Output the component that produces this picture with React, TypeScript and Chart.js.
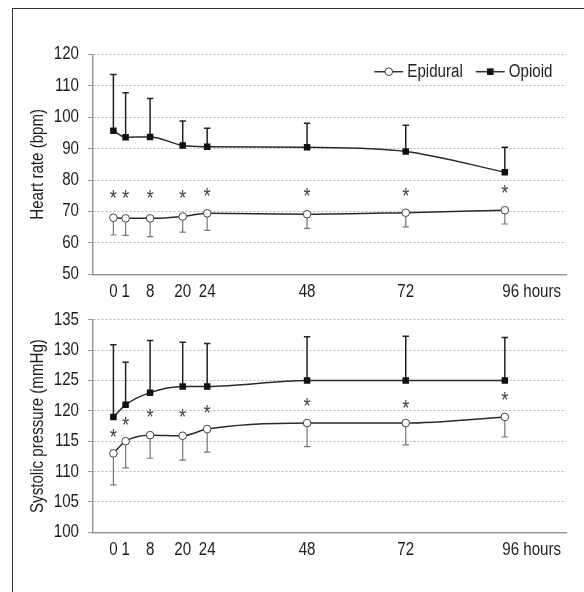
import React, { useEffect, useRef } from 'react';
import { Chart, registerables } from 'chart.js';
Chart.register(...registerables);

// ---- data ----
const hourLabels = ['0', '1', '8', '20', '24', '48', '72', '96'];
// display position of each time point along the (non-proportional) time axis
const hourPositions = [0, 3, 9, 17, 23, 47.5, 71.7, 96];

const hrOpioid = [95.7, 93.6, 93.7, 91.0, 90.6, 90.4, 89.1, 82.5];
const hrOpioidSD = [17.9, 14.2, 12.2, 7.8, 5.9, 7.7, 8.3, 7.9];
const hrEpidural = [68.0, 67.8, 67.8, 68.4, 69.4, 69.1, 69.6, 70.4];
const hrEpiduralSD = [5.5, 5.4, 5.8, 5.0, 5.4, 4.5, 4.5, 4.4];
const hrStars = [75.5, 75.5, 75.5, 75.5, 76.3, 76.3, 76.3, 77.0];

const sbpOpioid = [119, 121, 123, 124, 124, 125, 125, 125];
const sbpOpioidSD = [11.9, 7.0, 8.6, 7.3, 7.1, 7.2, 7.3, 7.1];
const sbpEpidural = [113, 115, 116, 115.9, 117, 118, 118, 119];
const sbpEpiduralSD = [5.2, 4.4, 3.8, 4.0, 3.8, 3.9, 3.6, 3.3];
const sbpStars = [116.4, 118.3, 119.6, 119.6, 120.3, 121.4, 121.2, 122.5];

const FONT_FAMILY = "'Liberation Sans', Arial, sans-serif";
const FONT_SIZE = 18;
const SX = 0.84; // horizontal condensing of all text (condensed face look)
const TEXT = '#1e1e1e';

type Panel = {
  opioid: number[]; opioidSD: number[]; epidural: number[]; epiduralSD: number[]; stars: number[];
  yMin: number; yMax: number; yStep: number; title: string;
  padTop: number; xAxisHeight: number; legend: boolean;
};

function condense(ctx: any) {
  if (ctx.__condensed) return;
  const orig = ctx.fillText.bind(ctx);
  ctx.fillText = function (text: string, x: number, y: number, maxWidth?: number) {
    ctx.save();
    ctx.translate(x, y);
    ctx.scale(SX, 1);
    if (maxWidth === undefined || maxWidth === null) orig(text, 0, 0);
    else orig(text, 0, 0, maxWidth / SX);
    ctx.restore();
  };
  ctx.__condensed = true;
}

function overlayPlugin(p: Panel) {
  return {
    id: 'overlay',
    beforeDraw(chart: any) {
      condense(chart.ctx);
    },
    beforeDatasetsDraw(chart: any) {
      const ctx = chart.ctx;
      const yScale = chart.scales.y;
      chart.data.datasets.forEach((ds: any, di: number) => {
        const meta = chart.getDatasetMeta(di);
        ctx.save();
        ctx.strokeStyle = ds.errColor;
        ctx.lineWidth = ds.errWidth;
        meta.data.forEach((el: any, i: number) => {
          const end = yScale.getPixelForValue(ds.means[i] + ds.errDir * ds.errors[i]);
          ctx.beginPath();
          ctx.moveTo(el.x, el.y);
          ctx.lineTo(el.x, end);
          ctx.moveTo(el.x - 3.2, end);
          ctx.lineTo(el.x + 3.2, end);
          ctx.stroke();
        });
        ctx.restore();
      });
    },
    afterDraw(chart: any) {
      const ctx = chart.ctx;
      const xs = chart.scales.x;
      const ys = chart.scales.y;
      const area = chart.chartArea;
      ctx.save();
      // asterisks
      ctx.fillStyle = '#444';
      ctx.font = `22px ${FONT_FAMILY}`;
      ctx.textAlign = 'center';
      ctx.textBaseline = 'alphabetic';
      const m = ctx.measureText('*');
      const off = (m.actualBoundingBoxAscent - m.actualBoundingBoxDescent) / 2;
      p.stars.forEach((v, i) => {
        ctx.fillText('*', xs.getPixelForValue(hourPositions[i]), ys.getPixelForValue(v) + off);
      });
      // last x label "96 hours"
      ctx.font = `${FONT_SIZE}px ${FONT_FAMILY}`;
      ctx.fillStyle = TEXT;
      ctx.textAlign = 'left';
      ctx.textBaseline = 'middle';
      const lastX = xs.getPixelForValue(hourPositions[hourPositions.length - 1]);
      ctx.fillText(hourLabels[hourLabels.length - 1] + ' hours', lastX - 2.6, area.bottom + 17.3);
      // legend
      if (p.legend) {
        const y = area.top + 17.4;
        let x = area.right - 191.7;
        ctx.strokeStyle = '#333';
        ctx.lineWidth = 1.5;
        ctx.beginPath(); ctx.moveTo(x, y); ctx.lineTo(x + 29, y); ctx.stroke();
        ctx.beginPath(); ctx.arc(x + 14.5, y, 3.8, 0, Math.PI * 2);
        ctx.fillStyle = '#fff'; ctx.fill();
        ctx.lineWidth = 1; ctx.strokeStyle = '#444'; ctx.stroke();
        x += 33;
        ctx.fillStyle = TEXT;
        ctx.fillText('Epidural', x, y);
        x += ctx.measureText('Epidural').width * SX + 13;
        ctx.strokeStyle = '#333';
        ctx.lineWidth = 1.5;
        ctx.beginPath(); ctx.moveTo(x, y); ctx.lineTo(x + 29, y); ctx.stroke();
        ctx.fillStyle = '#111';
        ctx.fillRect(x + 14.5 - 3.3, y - 3.3, 6.6, 6.6);
        x += 33;
        ctx.fillStyle = TEXT;
        ctx.fillText('Opioid', x, y);
      }
      ctx.restore();
    },
  };
}

function makeConfig(p: Panel): any {
  const font = { family: FONT_FAMILY, size: FONT_SIZE };
  return {
    type: 'line',
    data: {
      datasets: [
        {
          label: 'Epidural',
          data: hourPositions.map((x, i) => ({ x, y: p.epidural[i] })),
          means: p.epidural, errors: p.epiduralSD, errDir: -1, errColor: '#777', errWidth: 1.2,
          borderColor: '#2a2a2a', borderWidth: 1.5,
          pointStyle: 'circle', pointRadius: 3.8, pointBackgroundColor: '#fff',
          pointBorderColor: '#444', pointBorderWidth: 1,
          cubicInterpolationMode: 'monotone',
        },
        {
          label: 'Opioid',
          data: hourPositions.map((x, i) => ({ x, y: p.opioid[i] })),
          means: p.opioid, errors: p.opioidSD, errDir: 1, errColor: '#222', errWidth: 1.5,
          borderColor: '#2a2a2a', borderWidth: 1.5,
          pointStyle: 'rect', pointRadius: 4.6, pointBackgroundColor: '#111',
          pointBorderColor: '#111', pointBorderWidth: 0,
          cubicInterpolationMode: 'monotone',
        },
      ],
    },
    options: {
      animation: false,
      responsive: false,
      devicePixelRatio: 1,
      layout: { padding: { left: 0, right: 18, top: p.padTop, bottom: 0 } },
      plugins: { legend: { display: false }, tooltip: { enabled: false } },
      scales: {
        x: {
          type: 'linear', min: -5, max: 111,
          afterBuildTicks: (s: any) => { s.ticks = hourPositions.map((v) => ({ value: v })); },
          ticks: {
            autoSkip: false, maxRotation: 0, minRotation: 0, padding: 6.5, font, color: TEXT,
            callback: (_v: any, i: number) => (i === hourLabels.length - 1 ? '' : hourLabels[i]),
          },
          grid: { display: false, drawTicks: false },
          border: { display: true, color: '#999', width: 1.5 },
          afterFit: (s: any) => { s.height = p.xAxisHeight; },
        },
        y: {
          min: p.yMin, max: p.yMax,
          ticks: { stepSize: p.yStep, padding: 9, font, color: TEXT },
          grid: { color: '#b5b5b5', lineWidth: 1, tickLength: 5, tickColor: '#999', tickWidth: 1 },
          border: { dash: [2, 2], color: '#999', width: 1.5 },
          title: { display: true, text: p.title, font, color: TEXT, padding: { top: 27, bottom: 0 } },
          afterFit: (s: any) => { s.width = 93; },
        },
      },
    },
    plugins: [overlayPlugin(p)],
  };
}

const topPanel: Panel = {
  opioid: hrOpioid, opioidSD: hrOpioidSD, epidural: hrEpidural, epiduralSD: hrEpiduralSD, stars: hrStars,
  yMin: 50, yMax: 120, yStep: 10, title: 'Heart rate (bpm)', padTop: 54.3, xAxisHeight: 25.7, legend: true,
};
const bottomPanel: Panel = {
  opioid: sbpOpioid, opioidSD: sbpOpioidSD, epidural: sbpEpidural, epiduralSD: sbpEpiduralSD, stars: sbpStars,
  yMin: 100, yMax: 135, yStep: 5, title: 'Systolic pressure (mmHg)', padTop: 12.7, xAxisHeight: 59.7, legend: false,
};

function ChartCanvas({ panel, top, height }: { panel: Panel; top: number; height: number }) {
  const ref = useRef<HTMLCanvasElement>(null);
  useEffect(() => {
    if (!ref.current) return;
    const chart = new Chart(ref.current, makeConfig(panel));
    return () => chart.destroy();
  }, [panel]);
  return (
    <canvas
      ref={ref}
      width={584}
      height={height}
      style={{ position: 'fixed', left: 0, top, width: 584, height }}
    />
  );
}

export default function App() {
  return (
    <div style={{ position: 'fixed', left: 0, top: 0, width: 584, height: 592, background: '#fff' }}>
      <div
        style={{
          position: 'fixed', left: 12, top: 8, right: 0, bottom: 0,
          borderLeft: '1px solid #333', borderTop: '1px solid #333',
        }}
      />
      <ChartCanvas panel={topPanel} top={0} height={300} />
      <ChartCanvas panel={bottomPanel} top={300} height={292} />
    </div>
  );
}
